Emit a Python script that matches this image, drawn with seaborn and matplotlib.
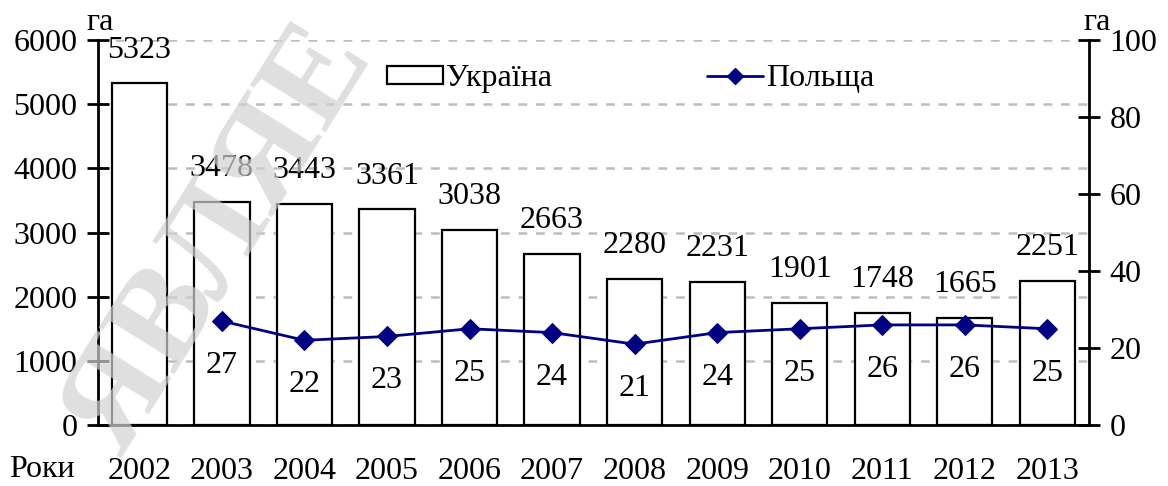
import numpy as np
import pandas as pd
import matplotlib
matplotlib.use("Agg")
import matplotlib.pyplot as plt
from matplotlib.patches import Patch
from matplotlib.lines import Line2D
import seaborn as sns

# data
years = ["2002", "2003", "2004", "2005", "2006", "2007",
         "2008", "2009", "2010", "2011", "2012", "2013"]
ukraine = [5323, 3478, 3443, 3361, 3038, 2663, 2280, 2231, 1901, 1748, 1665, 2251]
poland_years = ["2003", "2004", "2005", "2006", "2007", "2008",
                "2009", "2010", "2011", "2012", "2013"]
poland = [27, 22, 23, 25, 24, 21, 24, 25, 26, 26, 25]
left_ticks = [0, 1000, 2000, 3000, 4000, 5000, 6000]
right_ticks = [0, 20, 40, 60, 80, 100]

FS = 23

sns.set_theme(style="white")
plt.rcParams["font.family"] = ["Liberation Serif", "DejaVu Serif"]
plt.rcParams["font.size"] = FS
plt.rcParams["text.color"] = "black"
plt.rcParams["xtick.color"] = "black"
plt.rcParams["ytick.color"] = "black"
plt.rcParams["xtick.labelcolor"] = "black"
plt.rcParams["ytick.labelcolor"] = "black"

df = pd.DataFrame({"year": years, "ukraine": ukraine})
pol_x = [years.index(y) for y in poland_years]

fig = plt.figure(figsize=(11.68, 4.86), dpi=100)
ax = fig.add_axes([0.084, 0.1255, 0.848, 0.7922])

# dashed grid behind bars
ax.set_axisbelow(True)
ax.yaxis.grid(True, color="#bdbdbd", linestyle=(0, (3.5, 3.5)), linewidth=1.8)

sns.barplot(data=df, x="year", y="ukraine", color="white", saturation=1,
            edgecolor="black", linewidth=1.6, width=0.67, ax=ax)

ax.set_xlim(-0.5, len(years) - 0.5)
ax.set_ylim(0, 6000)
ax.set_yticks(left_ticks)
ax.set_xlabel("")
ax.set_ylabel("")

# x ticks at category boundaries, labels at centers
ax.set_xticks(np.arange(len(years)))
ax.set_xticklabels(years)
ax.set_xticks(np.arange(-0.5, len(years) + 0.5, 1), minor=True)
ax.tick_params(axis="x", which="major", length=0, pad=23, labelsize=FS)
ax.tick_params(axis="x", which="minor", direction="inout", length=16, width=2)
ax.tick_params(axis="y", direction="inout", length=16, width=2,
               labelsize=FS, pad=7, left=True)

for s in ["top", "right"]:
    ax.spines[s].set_visible(False)
for s in ["left", "bottom"]:
    ax.spines[s].set_color("black")
    ax.spines[s].set_linewidth(2)

for i, v in enumerate(ukraine):
    ax.annotate(str(v), (i, v), xytext=(0, 24), textcoords="offset points",
                ha="center", va="center", fontsize=FS)

ax2 = ax.twinx()
sns.lineplot(x=pol_x, y=poland, color="#000080", linewidth=2, marker="D",
             markersize=10, markeredgecolor="#000080", ax=ax2)
ax2.set_ylim(0, 100)
ax2.set_yticks(right_ticks)
ax2.set_ylabel("")
ax2.tick_params(axis="y", direction="inout", length=16, width=2,
                labelsize=FS, pad=7, right=True)
for s in ["top", "left", "bottom"]:
    ax2.spines[s].set_visible(False)
ax2.spines["right"].set_color("black")
ax2.spines["right"].set_linewidth(2)

for x, v in zip(pol_x, poland):
    ax2.annotate(str(v), (x, v), xytext=(0, -32), textcoords="offset points",
                 ha="center", va="center", fontsize=FS)

handles = [Patch(facecolor="white", edgecolor="black", linewidth=1.6),
           Line2D([], [], color="#000080", linewidth=2, marker="D", markersize=8)]
ax2.legend(handles, ["Україна", "Польща"], ncol=2, frameon=False,
           loc="center left", bbox_to_anchor=(0.263, 0.9), fontsize=FS,
           handlelength=1.75, handleheight=0.5, handletextpad=0.1, columnspacing=4.85)

fig.text(100 / 1168, 1 - 22 / 486, "га", ha="center", va="center", fontsize=FS)
fig.text(1097 / 1168, 1 - 22 / 486, "га", ha="center", va="center", fontsize=FS)
fig.text(42 / 1168, 1 - 469 / 486, "Роки", ha="center", va="center", fontsize=FS)

# faint diagonal watermark
fig.text(220 / 1168, 1 - 240 / 486, "ЯВЛЯЕ", rotation=58, ha="center", va="center",
         fontsize=98, fontweight="bold", color="#d2d2d2", alpha=0.7, zorder=10)

fig.savefig("out.png", dpi=100, facecolor="white")
